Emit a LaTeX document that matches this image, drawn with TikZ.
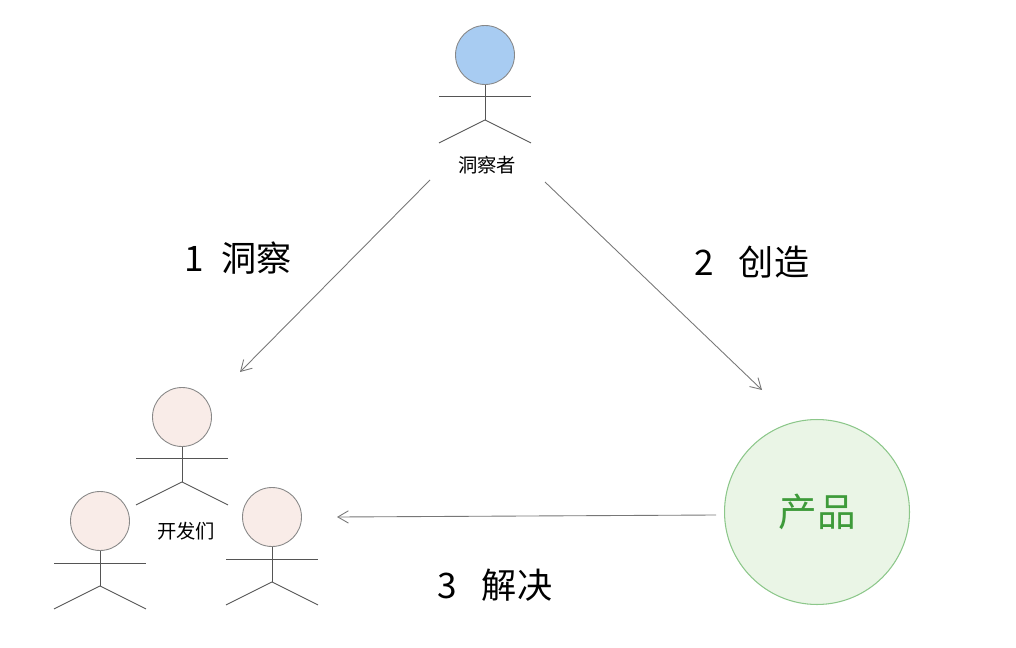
\documentclass[tikz,border=0pt]{standalone}
\usepackage{fontspec}
\newfontfamily\cjk{Noto Sans CJK SC}
\usetikzlibrary{arrows.meta,positioning,calc}
\definecolor{headblue}{HTML}{A8CCF2}
\definecolor{headpink}{HTML}{F9ECE8}
\definecolor{prodfill}{HTML}{EAF5E6}
\definecolor{prodline}{HTML}{8CC78A}
\definecolor{prodtext}{HTML}{3E9B3A}
\definecolor{stick}{HTML}{555555}
% one stick figure: name, x, y (head centre), head colour
\newcommand{\actor}[4]{%
  \node[head,fill=#4] (#1) at (#2,#3) {};
  \draw[limb] (#1.south) -- ++(0,35) coordinate (#1hip);
  \draw[limb] ($(#1.south)+(-46,12)$) -- ++(92,0);
  \draw[limb] (#1hip) -- ++(-46,23);
  \draw[limb] (#1hip) -- ++(46,23);
}
\begin{document}
\begin{tikzpicture}[x=0.02cm,y=-0.02cm,
  head/.style={circle,draw=stick!70,line width=0.5pt,minimum size=1.18cm,inner sep=0pt},
  limb/.style={draw=stick,line width=0.5pt},
  link/.style={draw=stick!80,line width=0.5pt,-{Straight Barb[length=6pt,width=7pt]}},
  big/.style={font=\cjk\fontsize{20}{24}\selectfont},
  small/.style={font=\cjk\fontsize{11}{13}\selectfont}]
\useasboundingbox (0,0) rectangle (1016,648);
\actor{seer}{485}{55}{headblue}
\actor{devA}{182}{417}{headpink}
\actor{devB}{100}{521}{headpink}
\actor{devC}{272}{517}{headpink}
\node[small] (seerlbl) at (487,165) {洞察者};
\node[small] (devlbl) at (186,531) {开发们};
\node[circle,draw=prodline,fill=prodfill,line width=0.6pt,minimum size=3.7cm,
  inner sep=0pt,font=\cjk\fontsize{22}{26}\selectfont,text=prodtext] (product) at (817,512) {产品};
\coordinate (a1) at (430,180);
\coordinate (b1) at (240,372);
\coordinate (a2) at (545,182);
\coordinate (b2) at (762,390);
\coordinate (b3) at (337,517);
\draw[link] (a1) -- (b1);
\draw[link] (a2) -- (b2);
\draw[link] ($(product.west)+(-8,3)$) -- (b3);
\node[big] (step1) at (238,258) {1\hspace{0.5em}洞察};
\node[big] (step2) at (752,262) {2\hspace{0.7em}创造};
\node[big] (step3) at (495,585) {3\hspace{0.7em}解决};
\end{tikzpicture}
\end{document}
